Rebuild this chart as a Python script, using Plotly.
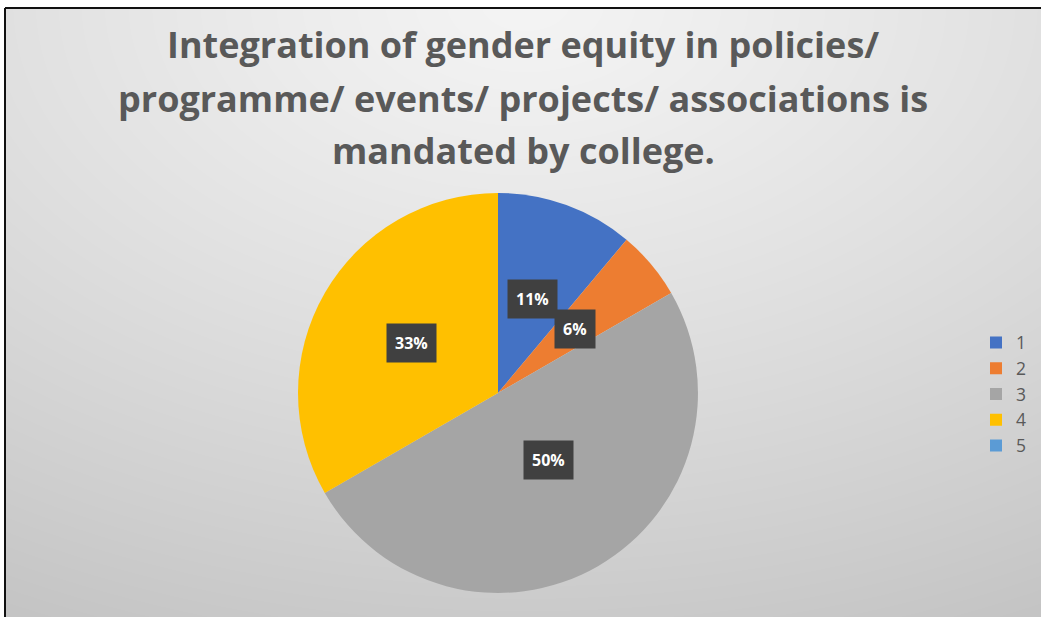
import base64, struct, zlib, math
import numpy as np
import plotly.graph_objects as go

# ---- data ----
categories = ["1", "2", "3", "4", "5"]
counts = [2, 1, 9, 6, 0]
colors = ["#4472C4", "#ED7D31", "#A5A5A5", "#FFC000", "#5B9BD5"]
title_lines = [
    "Integration of gender equity in policies/",
    "programme/ events/ projects/ associations is",
    "mandated by college.",
]

W, H = 1041, 617
FONT = "Open Sans"

# ---- background gradient image (style only) ----
def make_png(w, h):
    yy, xx = np.mgrid[0:h, 0:w].astype(float)
    d = np.sqrt(((xx - 520) / 1.6) ** 2 + (yy + 5) ** 2) / 620.0
    d = np.clip(d, 0, 1.1)
    c = np.clip(244 - 42 * d ** 1.2, 0, 255).astype(np.uint8)
    raw = b"".join(b"\x00" + c[r].tobytes() for r in range(h))
    def chunk(t, data):
        return struct.pack(">I", len(data)) + t + data + struct.pack(">I", zlib.crc32(t + data) & 0xffffffff)
    png = b"\x89PNG\r\n\x1a\n" + chunk(b"IHDR", struct.pack(">IIBBBBB", w, h, 8, 0, 0, 0, 0)) \
        + chunk(b"IDAT", zlib.compress(raw, 9)) + chunk(b"IEND", b"")
    return "data:image/png;base64," + base64.b64encode(png).decode()

bx0, by0 = 5, 8  # frame offset in px
bg = make_png(W - bx0, H - by0)

# ---- pie geometry (px) ----
cx, cy, R = 498, 393, 200
dom_x = [(cx - R) / W, (cx + R) / W]
dom_y = [1 - (cy + R) / H, 1 - (cy - R) / H]

fig = go.Figure()
fig.add_trace(go.Pie(
    labels=categories, values=counts, sort=False, direction="clockwise", rotation=0,
    marker=dict(colors=colors, line=dict(width=0)),
    textinfo="none", hoverinfo="skip",
    domain=dict(x=dom_x, y=dom_y),
))

# ---- percentage labels at half radius of each slice's mid angle ----
total = sum(counts)
annotations = []
cum = 0
for v in counts:
    if v > 0:
        mid = (cum + v / 2) / total * 2 * math.pi
        px = cx + 0.5 * R * math.sin(mid)
        py = cy - 0.5 * R * math.cos(mid)
        annotations.append(dict(
            x=px / W, y=1 - py / H, xref="paper", yref="paper",
            text=f"<b>{round(100 * v / total)}%</b>", showarrow=False,
            font=dict(family=FONT, size=16, color="white"),
            bgcolor="#404040", borderpad=8,
        ))
    cum += v

for i, (line, ypx) in enumerate(zip(title_lines, [45, 98, 150])):
    annotations.append(dict(
        x=0.5 * (W + bx0) / W, y=1 - ypx / H, xref="paper", yref="paper",
        text=f"<b>{line}</b>", showarrow=False,
        font=dict(family=FONT, size=36, color="#595959"),
        xanchor="center", yanchor="middle",
    ))

fig.update_layout(
    width=W, height=H,
    margin=dict(l=0, r=0, t=0, b=0),
    paper_bgcolor="white", plot_bgcolor="white",
    images=[dict(source=bg, xref="paper", yref="paper", x=bx0 / W, y=1 - by0 / H,
                 sizex=(W - bx0) / W, sizey=(H - by0) / H, xanchor="left", yanchor="top",
                 sizing="stretch", layer="below")],
    shapes=[
        dict(type="line", xref="paper", yref="paper", x0=bx0 / W, x1=1, y0=1 - by0 / H, y1=1 - by0 / H,
             line=dict(color="#111111", width=2)),
        dict(type="line", xref="paper", yref="paper", x0=bx0 / W, x1=bx0 / W, y0=0, y1=1 - by0 / H,
             line=dict(color="#111111", width=2)),
    ],
    annotations=annotations,
    showlegend=True,
    legend=dict(x=976 / W, y=1 - 394 / H, xanchor="left", yanchor="middle",
                font=dict(family=FONT, size=17.5, color="#595959"),
                bgcolor="rgba(0,0,0,0)", itemclick=False),
)

fig.write_html("out.html", config={"displayModeBar": False},
               post_script="document.body.style.margin='0';")
